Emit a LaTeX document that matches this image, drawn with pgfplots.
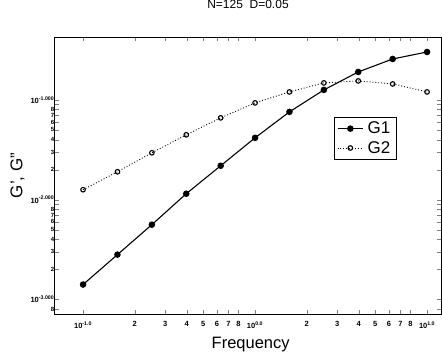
\documentclass[border=0pt]{standalone}
\usepackage{fontspec}
\setmainfont{Liberation Sans}
\usepackage{pgfplots}
\pgfplotsset{compat=1.18}
\newcommand{\dg}[1]{{\fontsize{6}{6}\selectfont\bfseries #1}}
\begin{document}
\begin{tikzpicture}
\useasboundingbox (-55pt,-48pt) rectangle (388pt,314pt);
\begin{axis}[
  scale only axis, width=386pt, height=277pt,
  at={(0pt,0pt)}, anchor=south west,
  xmode=log, ymode=log,
  xmin=0.0687, xmax=12.05,
  ymin=0.000716, ymax=0.4266,
  axis line style={line width=1pt},
  tick align=inside,
  major tick length=4pt,
  minor tick num=0,
  log basis x=10, log basis y=10,
  xtick={0.1,0.2,0.3,0.4,0.5,0.6,0.7,0.8,1,2,3,4,5,6,7,8,10},
  xticklabels={10\textsuperscript{-1.0},2,3,4,5,6,7,8,10\textsuperscript{0.0},2,3,4,5,6,7,8,10\textsuperscript{1.0}},
  ytick={0.0008,0.001,0.002,0.003,0.004,0.005,0.006,0.007,0.008,0.009,0.01,0.02,0.03,0.04,0.05,0.06,0.07,0.08,0.09,0.1},
  yticklabels={\dg{8},10\textsuperscript{-3.000},\dg{2},\dg{3},\dg{4},\dg{5},\dg{6},\dg{7},\dg{8},,10\textsuperscript{-2.000},\dg{2},\dg{3},\dg{4},\dg{5},\dg{6},\dg{7},\dg{8},,10\textsuperscript{-1.000}},
  tick label style={font=\fontsize{7.5}{8}\selectfont\bfseries},
  xticklabel style={yshift=-4pt},
  yticklabel style={inner sep=0.5pt},
  title={N=125\ \ D=0.05},
  title style={at={(0.5,1.097)}, anchor=center, font=\fontsize{12}{14}\selectfont},
  xlabel={Frequency},
  xlabel style={at={(0.507,-0.112)}, anchor=center, font=\fontsize{16.5}{18}\selectfont},
  ylabel={G', G''},
  ylabel style={at={(-0.097,0.5)}, anchor=center, font=\fontsize{17}{19}\selectfont},
  legend style={at={(0.723,0.711)}, anchor=north west, draw=black, line width=0.8pt,
     font=\fontsize{17}{19}\selectfont, inner sep=2.5pt, row sep=2pt,
     nodes={inner xsep=4pt}},
  legend cell align=left,
  legend image code/.code={\draw[mark repeat=2,mark phase=2] plot coordinates {(0cm,0cm) (0.45cm,0cm) (0.9cm,0cm)};},
]
\addplot[black, line width=1.1pt, mark=*, mark size=2.7pt] coordinates {
(0.1,0.001413) (0.1585,0.002818) (0.2512,0.005623) (0.3981,0.01148) (0.6310,0.02188)
(1.0,0.04169) (1.585,0.07586) (2.512,0.1259) (3.981,0.1905) (6.310,0.2570) (10,0.3020)};
\addlegendentry{G1}
\addplot[black, line width=0.9pt, dotted, mark=o, mark size=2.3pt, mark options={solid, line width=1.1pt}] coordinates {
(0.1,0.01259) (0.1585,0.01905) (0.2512,0.02951) (0.3981,0.04467) (0.6310,0.06607)
(1.0,0.09333) (1.585,0.1202) (2.512,0.1479) (3.981,0.1549) (6.310,0.1445) (10,0.1202)};
\addlegendentry{G2}
\end{axis}
\end{tikzpicture}
\end{document}
